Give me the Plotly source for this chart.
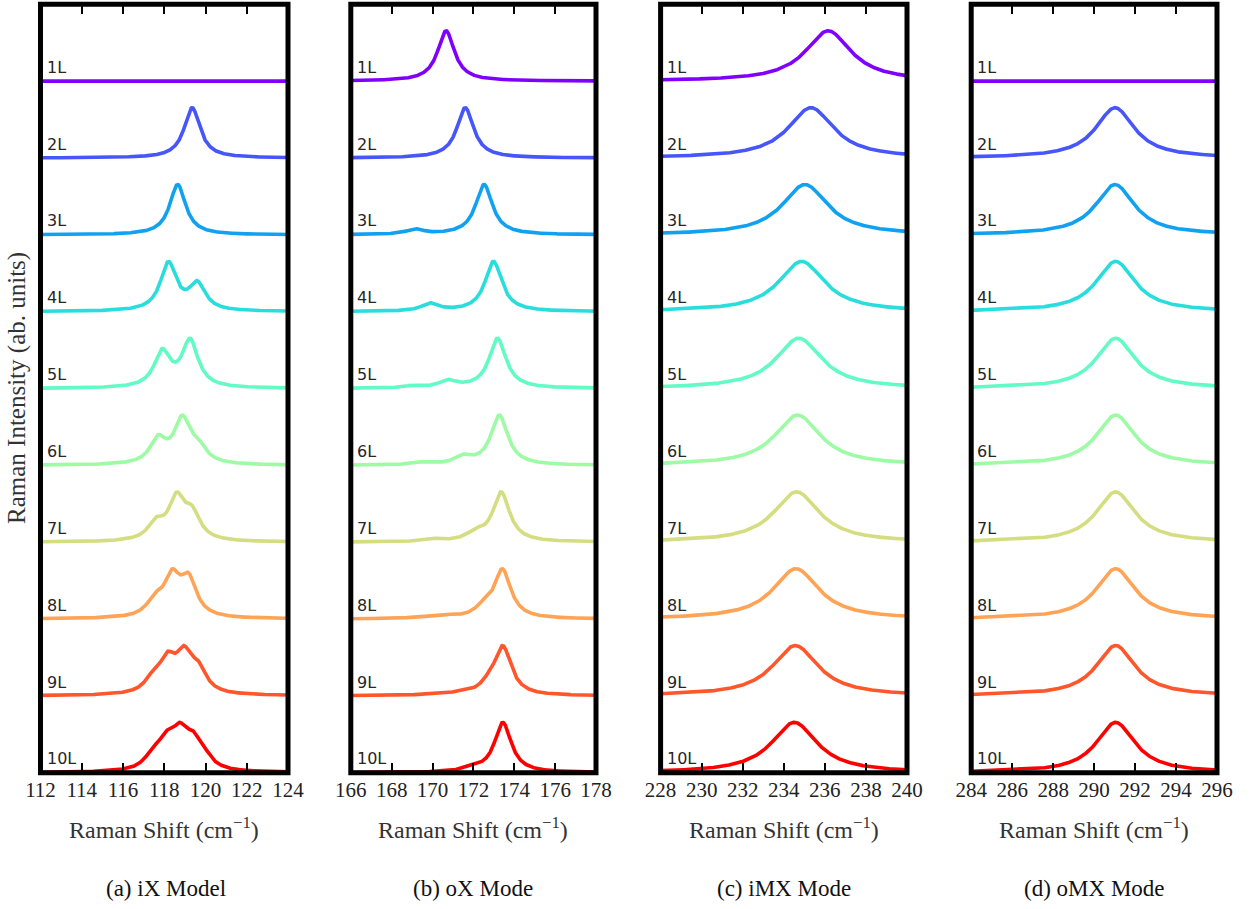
import numpy as np
import plotly.graph_objects as go

# ---------------- data ----------------
layers = ["1L", "2L", "3L", "4L", "5L", "6L", "7L", "8L", "9L", "10L"]
layer_colors = ["#8000ff", "#4756fb", "#10a2f0", "#2adddd", "#62fbc4",
                "#9cfba4", "#d4dd80", "#ffa457", "#ff562c", "#ff0000"]

x_ranges = [[112, 124], [166, 178], [228, 240], [284, 296]]
tick_values = [[112, 114, 116, 118, 120, 122, 124],
               [166, 168, 170, 172, 174, 176, 178],
               [228, 230, 232, 234, 236, 238, 240],
               [284, 286, 288, 290, 292, 294, 296]]
captions = ["(a) iX Model", "(b) oX Mode", "(c) iMX Mode", "(d) oMX Mode"]

# Raman peak positions (cm^-1), relative intensities, per layer count
ix_pos = [[], [119.35], [118.65], [118.2, 119.6], [117.9, 119.25],
          [117.7, 118.87, 119.65], [117.6, 118.6, 119.35],
          [117.55, 118.38, 119.18], [117.45, 118.15, 118.95, 119.65],
          [117.45, 118.1, 118.75, 119.4, 119.95]]
ix_amp = [[], [1.0], [1.0], [1.0, 0.55], [0.75, 1.0],
          [0.55, 1.0, 0.33], [0.4, 1.0, 0.6],
          [0.4, 1.0, 0.95], [0.35, 0.85, 1.0, 0.6],
          [0.4, 0.75, 1.0, 0.75, 0.3]]
ix_hwhm = 0.47

ox_pos = [[170.66], [171.6], [169.15, 172.52], [169.88, 172.98],
          [169.0, 170.74, 173.18], [169.45, 171.5, 173.27],
          [170.0, 172.1, 173.36], [169.4, 170.7, 172.5, 173.42],
          [170.0, 171.35, 172.75, 173.44], [171.9, 173.44]]
ox_amp = [[1.0], [1.0], [0.1, 1.0], [0.15, 1.0],
          [0.04, 0.14, 1.0], [0.05, 0.15, 1.0],
          [0.05, 0.15, 1.0], [0.03, 0.05, 0.17, 1.0],
          [0.03, 0.04, 0.15, 1.0], [0.07, 1.0]]
ox_hwhm = 0.5

imx_pos = [[236.16], [235.32], [235.03], [234.87], [234.73],
           [234.67], [234.62], [234.59], [234.56], [234.51]]
imx_amp = [[1.0]] * 10
imx_hwhm = 1.35

omx_pos = [[], [291.02], [291.02], [291.05], [291.05],
           [291.05], [291.05], [291.05], [291.05], [291.05]]
omx_amp = [[], [1.0], [1.0], [1.0], [1.0], [1.0], [1.0], [1.0], [1.0], [1.0]]
omx_hwhm = 1.15

panels = [(ix_pos, ix_amp, ix_hwhm), (ox_pos, ox_amp, ox_hwhm),
          (imx_pos, imx_amp, imx_hwhm), (omx_pos, omx_amp, omx_hwhm)]

peak_height = 0.655   # normalised peak height (offset units)
layer_step = 1.0      # vertical offset between layers

# ---------------- geometry ----------------
W, H = 1250, 909
panel_px = [(40.5, 288.0), (350.8, 596.0), (660.6, 907.0), (971.2, 1217.0)]
y_top_px, y_bot_px = 4.3, 772.7
y_dom = [1 - y_bot_px / H, 1 - y_top_px / H]

SERIF = "Liberation Serif, Times New Roman, serif"

fig = go.Figure()
annotations = []
shapes = []
layout_axes = {}

for p, ((pos_list, amp_list, hw), (lo, hi)) in enumerate(zip(panels, x_ranges)):
    n = "" if p == 0 else str(p + 1)
    xs = np.linspace(lo, hi, 1201)
    for i, name in enumerate(layers):
        spec = np.zeros_like(xs)
        for x0, a in zip(pos_list[i], amp_list[i]):
            spec += a * hw**2 / ((xs - x0) ** 2 + hw**2)
        if spec.max() > 0:
            spec = spec / spec.max() * peak_height
        base = (len(layers) - 1 - i) * layer_step
        fig.add_trace(go.Scatter(
            x=xs, y=spec + base, mode="lines",
            line=dict(color=layer_colors[i], width=3.6),
            xaxis="x" + n, yaxis="y" + n, showlegend=False, hoverinfo="skip"))
        annotations.append(dict(
            x=lo + 0.2, y=base + 0.18, xref="x" + n, yref="y" + n,
            text=name, showarrow=False, xanchor="left", yanchor="middle",
            font=dict(family="DejaVu Sans", size=16, color="#262626")))

    l, r = panel_px[p]
    layout_axes["xaxis" + n] = dict(
        domain=[l / W, r / W], anchor="y" + n, range=[lo, hi],
        tickvals=tick_values[p], ticktext=[str(t) for t in tick_values[p]],
        ticks="inside", ticklen=10, tickwidth=2.2, tickcolor="black",
        mirror="ticks", showline=False, showgrid=False, zeroline=False,
        automargin=False,
        tickfont=dict(family=SERIF, size=21, color="#222"),
        ticklabelstandoff=2)
    layout_axes["yaxis" + n] = dict(
        domain=y_dom, anchor="x" + n, range=[0, 10],
        showticklabels=False, ticks="", showline=False, showgrid=False,
        zeroline=False, automargin=False)
    shapes.append(dict(type="rect", xref="x" + n + " domain", yref="y" + n + " domain",
                       x0=0, x1=1, y0=0, y1=1, line=dict(color="black", width=5),
                       layer="above"))
    cx = (l + r) / 2 / W
    annotations.append(dict(
        x=cx, y=1 - 828 / H, xref="paper", yref="paper",
        text="Raman Shift (cm<sup>\u22121</sup>)", showarrow=False,
        xanchor="center", yanchor="middle",
        font=dict(family=SERIF, size=24, color="#333")))
    cap_x = 166 / W if p == 0 else cx
    annotations.append(dict(
        x=cap_x, y=1 - 888 / H, xref="paper", yref="paper",
        text=captions[p], showarrow=False, xanchor="center", yanchor="middle",
        font=dict(family=SERIF, size=23, color="#111")))

annotations.append(dict(
    x=17 / W, y=1 - 388 / H, xref="paper", yref="paper",
    text="Raman Intensity (ab. units)", showarrow=False, textangle=-90,
    xanchor="center", yanchor="middle",
    font=dict(family=SERIF, size=25, color="#333")))

fig.update_layout(
    template="none",
    width=W, height=H, margin=dict(l=0, r=0, t=0, b=0, pad=0),
    paper_bgcolor="white", plot_bgcolor="white",
    font=dict(family=SERIF, size=20, color="#222"),
    annotations=annotations, shapes=shapes, **layout_axes)

fig.write_html("out.html")
